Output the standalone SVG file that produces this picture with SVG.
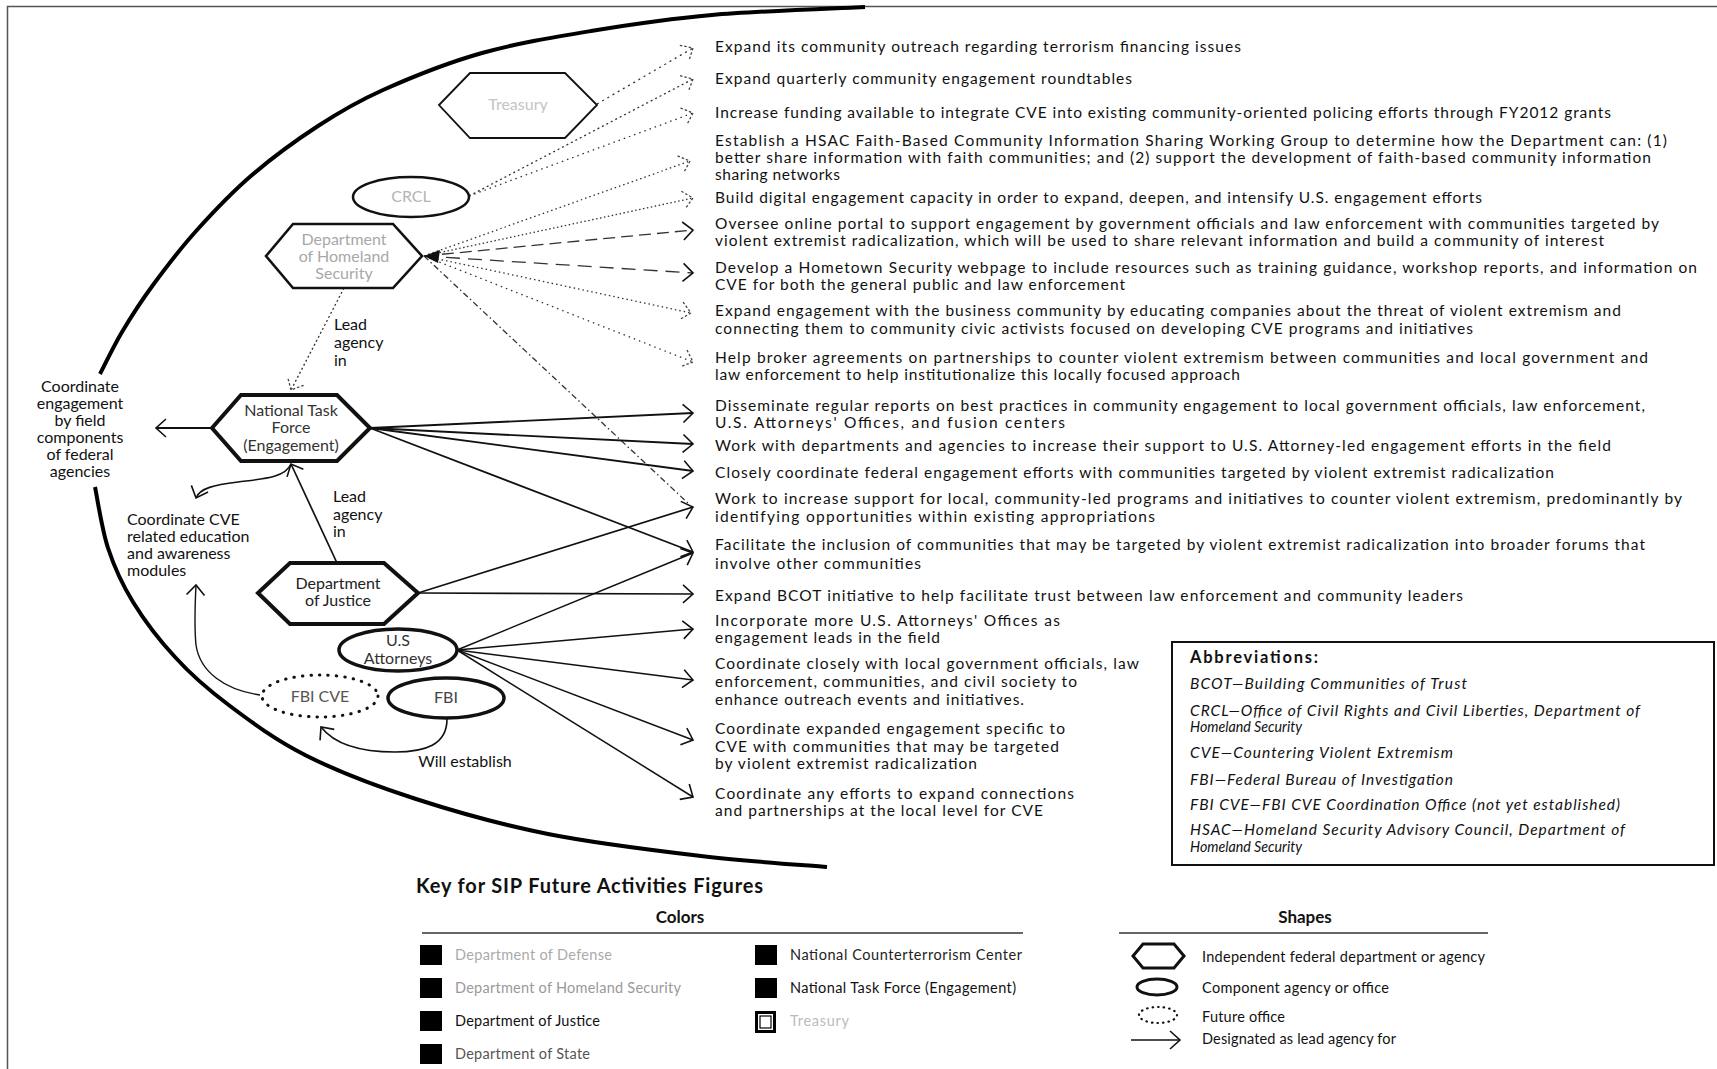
<svg xmlns="http://www.w3.org/2000/svg" width="1717" height="1069" viewBox="0 0 1717 1069">
<defs>
<style>
text{font-family:Lato,"Open Sans","Liberation Sans",sans-serif;fill:#111}
.r{font-size:15.5px}
.n{font-size:16px;text-anchor:middle}
.l{font-size:16px}
.c{font-size:16px;text-anchor:middle}
.ab{font-size:15.5px;font-style:italic}
.lg{font-size:14.5px}
.b{font-weight:bold}
.hex{fill:#fff;stroke:#111;stroke-linejoin:miter}
.ell{fill:#fff;stroke:#111}
.sol{fill:none;stroke:#111}
.dot{fill:none;stroke:#333;stroke-width:1.3}
</style>
<marker id="ah" markerUnits="userSpaceOnUse" markerWidth="14" markerHeight="22" viewBox="0 0 14 22" refX="12" refY="11" orient="auto"><path d="M2,2 L12,11 L2,20" fill="none" stroke="#111" stroke-width="1.6"/></marker>
<marker id="ahd" markerUnits="userSpaceOnUse" markerWidth="14" markerHeight="22" viewBox="0 0 14 22" refX="12" refY="11" orient="auto"><path d="M2,2 L12,11 L2,20" fill="none" stroke="#444" stroke-width="1.3" stroke-dasharray="2.5,2"/></marker>
</defs>
<rect width="1717" height="1069" fill="#fff"/>
<path d="M7.5,1069 V6.5 H1717" fill="none" stroke="#555" stroke-width="1.5"/>
<!-- big arc -->
<path d="M865,7 C839.5,8.3 757.7,11 712,15 C666.3,19 629.3,24.7 591,31 C552.7,37.3 516.7,43.2 482,53 C447.3,62.8 410.3,77.8 383,90 C355.7,102.2 339.8,111.8 318,126 C296.2,140.2 272.2,157.7 252,175 C231.8,192.3 213.5,211.7 197,230 C180.5,248.3 165.5,268 153,285 C140.5,302 130.8,317.2 122,332 C113.2,346.8 103.7,367 100,374" fill="none" stroke="#000" stroke-width="4"/>
<path d="M95,487 C97.2,497.2 101.7,528.8 108,548 C114.3,567.2 121.8,583.8 133,602 C144.2,620.2 158.8,639.7 175,657 C190.5,674.3 208,689.5 230,706 C252,722.5 276,740.5 307,756 C338,771.5 375.8,786 416,799 C456.2,812 500.5,824.5 548,834 C595.5,843.5 654.5,850.5 701,856 C747.5,861.5 806,865.2 827,867" fill="none" stroke="#000" stroke-width="4"/>

<g id="connectors">
<path class="dot" d="M597,104 L693,48" stroke-dasharray="2,4" marker-end="url(#ahd)"/>
<path class="dot" d="M469,196 L693,79" stroke-dasharray="2,3" marker-end="url(#ahd)"/>
<path class="dot" d="M469,196 L693,113" stroke-dasharray="1.5,4" marker-end="url(#ahd)"/>
<path class="dot" d="M424,256 L690,161" stroke-dasharray="1.5,3" marker-end="url(#ahd)"/>
<path class="dot" d="M424,256 L693,198" stroke-dasharray="1.5,2.5" marker-end="url(#ahd)"/>
<path class="dot" d="M424,256 L693,230" stroke-dasharray="12,6" stroke-width="1.6" marker-end="url(#ah)"/>
<path class="dot" d="M424,256 L693,273" stroke-dasharray="14,8" stroke-width="1.6" marker-end="url(#ah)"/>
<path class="dot" d="M424,256 L691,313" stroke-dasharray="1.5,3" marker-end="url(#ahd)"/>
<path class="dot" d="M424,256 L693,362" stroke-dasharray="1.5,4" marker-end="url(#ahd)"/>
<path class="dot" d="M424,256 L690,505" stroke-dasharray="6,3,1.5,3" stroke-width="1.2"/>
<polygon points="424,256 440,250 438,263" fill="#111"/>

<path class="sol" d="M370,428 L693,413" stroke-width="1.9" marker-end="url(#ah)"/>
<path class="sol" d="M370,428 L693,444" stroke-width="1.9" marker-end="url(#ah)"/>
<path class="sol" d="M370,428 L693,471" stroke-width="1.9" marker-end="url(#ah)"/>
<path class="sol" d="M370,428 L693,552" stroke-width="1.7" marker-end="url(#ah)"/>
<path class="sol" d="M418,593 L693,507" stroke-width="1.7" marker-end="url(#ah)"/>
<path class="sol" d="M418,593 L693,594" stroke-width="1.7" marker-end="url(#ah)"/>
<path class="sol" d="M457,650 L693,553" stroke-width="1.5" marker-end="url(#ah)"/>
<path class="sol" d="M457,650 L693,629" stroke-width="1.5" marker-end="url(#ah)"/>
<path class="sol" d="M457,650 L693,680" stroke-width="1.5" marker-end="url(#ah)"/>
<path class="sol" d="M457,650 L693,740" stroke-width="1.5" marker-end="url(#ah)"/>
<path class="sol" d="M457,650 L693,797" stroke-width="1.5" marker-end="url(#ah)"/>

<path class="sol" d="M212,428 L156,428" stroke-width="1.8" marker-end="url(#ah)"/>
<path class="dot" d="M344,288 L291,390" stroke-dasharray="2,2.5" stroke-width="1.2" marker-end="url(#ahd)"/>
<path class="sol" d="M337,563 L291,464" stroke-width="1.7" marker-end="url(#ah)"/>
<path class="sol" d="M291,464 C285,478 262,479 238,482 C214,485 200,488 196,498" stroke-width="1.6" marker-end="url(#ah)"/>
<path class="sol" d="M260,695 C225,690 200,672 196,645 C194,625 195,605 196,585" stroke-width="1.4" marker-end="url(#ah)"/>
<path class="sol" d="M447,719 C447,745 425,752 395,752 C360,752 335,745 321,727" stroke-width="1.6" marker-end="url(#ah)"/>
</g>

<g id="treasury"><polygon class="hex" stroke-width="1.8" points="439,105 470,73 565,73 597,105 565,138 470,138"/><text class="n" x="518" y="110" style="fill:#c4c4c4">Treasury</text></g>
<g id="crcl"><ellipse class="ell" cx="411" cy="197" rx="58" ry="20" stroke-width="2.5"/><text class="n" x="411" y="202" style="fill:#b4b4b4">CRCL</text></g>
<g id="dhs"><polygon class="hex" stroke-width="2.6" points="266,256 293,224 393,224 422,256 393,288 293,288"/><text class="n" x="344" y="245" style="fill:#a8a8a8">Department</text><text class="n" x="344" y="262" style="fill:#a8a8a8">of Homeland</text><text class="n" x="344" y="279" style="fill:#a8a8a8">Security</text></g>
<g id="ntf"><polygon class="hex" stroke-width="4" points="212,428 241,395 337,395 370,428 337,461 241,461"/><text class="n" x="291" y="416" style="fill:#333">National Task</text><text class="n" x="291" y="433" style="fill:#333">Force</text><text class="n" x="291" y="451" style="fill:#333">(Engagement)</text></g>
<g id="doj"><polygon class="hex" stroke-width="4" points="258,593 290,563 384,563 418,593 384,624 290,624"/><text class="n" x="338" y="589" style="fill:#222">Department</text><text class="n" x="338" y="606" style="fill:#222">of Justice</text></g>
<g id="usatt"><ellipse class="ell" cx="398" cy="650" rx="59" ry="21" stroke-width="3.5"/><text class="n" x="398" y="646" style="fill:#333">U.S</text><text class="n" x="398" y="664" style="fill:#333">Attorneys</text></g>
<g id="fbicve"><ellipse class="ell" cx="320" cy="696" rx="58" ry="21" stroke-width="3" stroke-dasharray="0.5,8" stroke-linecap="round"/><text class="n" x="320" y="702" style="fill:#555">FBI CVE</text></g>
<g id="fbi"><ellipse class="ell" cx="446" cy="698" rx="58" ry="20" stroke-width="3.5"/><text class="n" x="446" y="703" style="fill:#444">FBI</text></g>

<g id="left-labels">
<text class="c" x="80" y="392">Coordinate</text>
<text class="c" x="80" y="409">engagement</text>
<text class="c" x="80" y="426">by field</text>
<text class="c" x="80" y="443">components</text>
<text class="c" x="80" y="460">of federal</text>
<text class="c" x="80" y="477">agencies</text>
<text class="l" x="127" y="525">Coordinate CVE</text>
<text class="l" x="127" y="542">related education</text>
<text class="l" x="127" y="559">and awareness</text>
<text class="l" x="127" y="576">modules</text>
<text class="l" x="334" y="330">Lead</text>
<text class="l" x="334" y="348">agency</text>
<text class="l" x="334" y="366">in</text>
<text class="l" x="333" y="502">Lead</text>
<text class="l" x="333" y="520">agency</text>
<text class="l" x="333" y="537">in</text>
<text class="c" x="465" y="767">Will establish</text>
</g>

<g id="activities">
<text class="r" x="715" y="52" textLength="526">Expand its community outreach regarding terrorism financing issues</text>
<text class="r" x="715" y="84" textLength="417">Expand quarterly community engagement roundtables</text>
<text class="r" x="715" y="118" textLength="896">Increase funding available to integrate CVE into existing community-oriented policing efforts through FY2012 grants</text>
<text class="r" x="715" y="146" textLength="952">Establish a HSAC Faith-Based Community Information Sharing Working Group to determine how the Department can: (1)</text>
<text class="r" x="715" y="163" textLength="936">better share information with faith communities; and (2) support the development of faith-based community information</text>
<text class="r" x="715" y="180" textLength="125">sharing networks</text>
<text class="r" x="715" y="203" textLength="767">Build digital engagement capacity in order to expand, deepen, and intensify U.S. engagement efforts</text>
<text class="r" x="715" y="229" textLength="944">Oversee online portal to support engagement by government officials and law enforcement with communities targeted by</text>
<text class="r" x="715" y="246" textLength="889">violent extremist radicalization, which will be used to share relevant information and build a community of interest</text>
<text class="r" x="715" y="273" textLength="982">Develop a Hometown Security webpage to include resources such as training guidance, workshop reports, and information on</text>
<text class="r" x="715" y="290" textLength="410">CVE for both the general public and law enforcement</text>
<text class="r" x="715" y="316" textLength="906">Expand engagement with the business community by educating companies about the threat of violent extremism and</text>
<text class="r" x="715" y="334" textLength="758">connecting them to community civic activists focused on developing CVE programs and initiatives</text>
<text class="r" x="715" y="363" textLength="933">Help broker agreements on partnerships to counter violent extremism between communities and local government and</text>
<text class="r" x="715" y="380" textLength="525">law enforcement to help institutionalize this locally focused approach</text>
<text class="r" x="715" y="411" textLength="930">Disseminate regular reports on best practices in community engagement to local government officials, law enforcement,</text>
<text class="r" x="715" y="428" textLength="350">U.S. Attorneys' Offices, and fusion centers</text>
<text class="r" x="715" y="451" textLength="896">Work with departments and agencies to increase their support to U.S. Attorney-led engagement efforts in the field</text>
<text class="r" x="715" y="478" textLength="839">Closely coordinate federal engagement efforts with communities targeted by violent extremist radicalization</text>
<text class="r" x="715" y="504" textLength="967">Work to increase support for local, community-led programs and initiatives to counter violent extremism, predominantly by</text>
<text class="r" x="715" y="522" textLength="440">identifying opportunities within existing appropriations</text>
<text class="r" x="715" y="550" textLength="930">Facilitate the inclusion of communities that may be targeted by violent extremist radicalization into broader forums that</text>
<text class="r" x="715" y="569" textLength="206">involve other communities</text>
<text class="r" x="715" y="601" textLength="748">Expand BCOT initiative to help facilitate trust between law enforcement and community leaders</text>
<text class="r" x="715" y="626" textLength="345">Incorporate more U.S. Attorneys' Offices as</text>
<text class="r" x="715" y="643" textLength="225">engagement leads in the field</text>
<text class="r" x="715" y="669" textLength="424">Coordinate closely with local government officials, law</text>
<text class="r" x="715" y="687" textLength="362">enforcement, communities, and civil society to</text>
<text class="r" x="715" y="705" textLength="309">enhance outreach events and initiatives.</text>
<text class="r" x="715" y="734" textLength="350">Coordinate expanded engagement specific to</text>
<text class="r" x="715" y="752" textLength="344">CVE with communities that may be targeted</text>
<text class="r" x="715" y="769" textLength="262">by violent extremist radicalization</text>
<text class="r" x="715" y="799" textLength="359">Coordinate any efforts to expand connections</text>
<text class="r" x="715" y="816" textLength="328">and partnerships at the local level for CVE</text>
</g>

<g id="abbreviations">
<rect x="1172" y="642" width="542" height="223" fill="none" stroke="#111" stroke-width="2"/>
<text class="b" x="1190" y="663" style="font-size:16.5px" textLength="128">Abbreviations:</text>
<text class="ab" x="1190" y="689" textLength="277">BCOT—Building Communities of Trust</text>
<text class="ab" x="1190" y="716" textLength="450">CRCL—Office of Civil Rights and Civil Liberties, Department of</text>
<text class="ab" x="1190" y="732" textLength="112" lengthAdjust="spacingAndGlyphs">Homeland Security</text>
<text class="ab" x="1190" y="758" textLength="263">CVE—Countering Violent Extremism</text>
<text class="ab" x="1190" y="785" textLength="263">FBI—Federal Bureau of Investigation</text>
<text class="ab" x="1190" y="810" textLength="430">FBI CVE—FBI CVE Coordination Office (not yet established)</text>
<text class="ab" x="1190" y="835" textLength="435">HSAC—Homeland Security Advisory Council, Department of</text>
<text class="ab" x="1190" y="852" textLength="112" lengthAdjust="spacingAndGlyphs">Homeland Security</text>
</g>

<g id="key">
<text class="b" x="416" y="893" style="font-size:20px" textLength="347">Key for SIP Future Activities Figures</text>
<text class="b" x="680" y="923" style="font-size:17px;text-anchor:middle">Colors</text>
<line x1="422" y1="933" x2="1023" y2="933" stroke="#333" stroke-width="1.5"/>
<rect x="420" y="945" width="22" height="20" fill="#000"/>
<rect x="420" y="978" width="22" height="20" fill="#000"/>
<rect x="420" y="1011" width="22" height="20" fill="#000"/>
<rect x="420" y="1044" width="22" height="20" fill="#000"/>
<text class="lg" x="455" y="960" style="fill:#aaa" textLength="157">Department of Defense</text>
<text class="lg" x="455" y="993" style="fill:#999" textLength="226">Department of Homeland Security</text>
<text class="lg" x="455" y="1026" style="fill:#111" textLength="145">Department of Justice</text>
<text class="lg" x="455" y="1059" style="fill:#555" textLength="135">Department of State</text>
<rect x="755" y="945" width="22" height="20" fill="#000"/>
<rect x="755" y="978" width="22" height="20" fill="#000"/>
<rect x="756.5" y="1012.5" width="18" height="19" fill="#fff" stroke="#000" stroke-width="3"/>
<rect x="760" y="1016" width="11" height="12" fill="#fff" stroke="#000" stroke-width="1.2"/>
<text class="lg" x="790" y="960" style="fill:#222" textLength="232">National Counterterrorism Center</text>
<text class="lg" x="790" y="993" style="fill:#111" textLength="226">National Task Force (Engagement)</text>
<text class="lg" x="790" y="1026" style="fill:#bbb" textLength="59">Treasury</text>

<text class="b" x="1305" y="923" style="font-size:17px;text-anchor:middle">Shapes</text>
<line x1="1119" y1="933" x2="1488" y2="933" stroke="#333" stroke-width="1.5"/>
<polygon class="hex" stroke-width="3" points="1133,956 1143,944 1174,944 1184,956 1174,968 1143,968"/>
<ellipse class="ell" cx="1157" cy="987" rx="20" ry="8" stroke-width="3"/>
<ellipse class="ell" cx="1158" cy="1015" rx="19" ry="8" stroke-width="2.2" stroke-dasharray="0.5,5" stroke-linecap="round"/>
<path class="sol" d="M1131,1040 L1180,1040" stroke-width="1.6" marker-end="url(#ah)"/>
<text class="lg" x="1202" y="962" textLength="283">Independent federal department or agency</text>
<text class="lg" x="1202" y="993" textLength="187">Component agency or office</text>
<text class="lg" x="1202" y="1022" textLength="83">Future office</text>
<text class="lg" x="1202" y="1044" textLength="194">Designated as lead agency for</text>
</g>
</svg>
